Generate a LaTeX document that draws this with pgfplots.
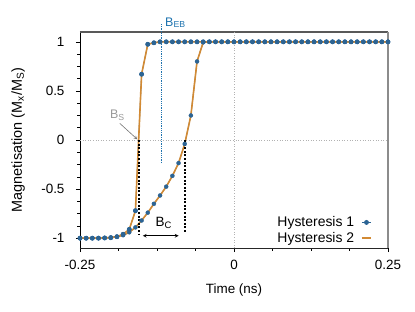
\documentclass[border=0pt]{standalone}
\usepackage{pgfplots}
\pgfplotsset{compat=1.18}
\usepackage{pgfplotstable}
\usepackage{fontspec}
\setmainfont{Liberation Sans}
\definecolor{hblue}{RGB}{44,100,148}
\definecolor{horange}{RGB}{210,138,52}
\definecolor{ebblue}{RGB}{30,115,175}

\pgfplotstableread{
x y
-0.25 -1
-0.24 -1
-0.23 -1
-0.22 -1
-0.21 -0.998
-0.20 -0.995
-0.19 -0.985
-0.18 -0.96
-0.17 -0.91
-0.16 -0.72
-0.15 0.67
-0.14 0.975
-0.13 0.99
-0.12 1
-0.11 1
-0.10 1
-0.09 1
-0.08 1
-0.07 1
-0.06 1
-0.05 1
-0.04 1
-0.03 1
-0.02 1
-0.01 1
0.00 1
0.01 1
0.02 1
0.03 1
0.04 1
0.05 1
0.06 1
0.07 1
0.08 1
0.09 1
0.10 1
0.11 1
0.12 1
0.13 1
0.14 1
0.15 1
0.16 1
0.17 1
0.18 1
0.19 1
0.20 1
0.21 1
0.22 1
0.23 1
0.24 1
0.25 1
}\steep

\pgfplotstableread{
x y
-0.25 -1
-0.24 -1
-0.23 -1
-0.22 -0.998
-0.21 -0.996
-0.20 -0.993
-0.19 -0.985
-0.18 -0.97
-0.17 -0.94
-0.16 -0.89
-0.15 -0.82
-0.14 -0.74
-0.13 -0.65
-0.12 -0.565
-0.11 -0.475
-0.10 -0.365
-0.09 -0.235
-0.08 -0.04
-0.07 0.25
-0.06 0.80
-0.05 0.995
-0.04 1
-0.03 1
-0.02 1
-0.01 1
0.00 1
0.01 1
0.02 1
0.03 1
0.04 1
0.05 1
0.06 1
0.07 1
0.08 1
0.09 1
0.10 1
0.11 1
0.12 1
0.13 1
0.14 1
0.15 1
0.16 1
0.17 1
0.18 1
0.19 1
0.20 1
0.21 1
0.22 1
0.23 1
0.24 1
0.25 1
}\slow

\begin{document}
\begin{tikzpicture}
\path[use as bounding box] (-80bp,-64bp) rectangle (335bp,248bp);
\begin{axis}[
  at={(0,0)}, anchor=south west,
  scale only axis, width=308bp, height=216bp,
  xmin=-0.25, xmax=0.25, ymin=-1.1, ymax=1.1,
  xtick={-0.25,0,0.25}, xticklabels={-0.25,0,0.25},
  ytick={-1,-0.5,0,0.5,1}, yticklabels={-1,-0.5,0,0.5,1},
  minor x tick num=3, minor y tick num=3,
  xtick pos=bottom, ytick pos=left,
  tick align=outside,
  major tick length=4bp, minor tick length=2.5bp,
  tick style={black, line width=0.5bp},
  axis line style={draw=none},
  font=\fontsize{13.5}{15}\selectfont,
  ticklabel style={font=\fontsize{13.5}{15}\selectfont},
  yticklabel style={xshift=-8bp},
  xticklabel style={yshift=-5bp},
  xlabel={Time (ns)},
  ylabel={Magnetisation (M\textsubscript{x}/M\textsubscript{S})},
  xlabel style={at={(axis description cs:0.5,-0.194)}, anchor=center},
  ylabel style={at={(axis description cs:-0.201,0.5)}, anchor=center, font=\fontsize{14.5}{16}\selectfont},
  clip=false,
  legend entries={Hysteresis 1, Hysteresis 2},
  legend plot pos=right,
  legend cell align=right,
  legend image code/.code={\draw[mark repeat=2,mark phase=2,#1] plot coordinates {(0bp,0bp) (4.5bp,0bp) (9bp,0bp)};},
  legend style={draw=none, fill=none, at={(axis description cs:1,0)}, anchor=south east,
    xshift=-16bp, yshift=2bp, inner sep=0pt, row sep=0pt,
    /tikz/every odd column/.style={column sep=5bp},
    font=\fontsize{14}{15}\selectfont},
]
% frame
\draw[black, line width=0.9bp] (axis description cs:0,0) -- (axis description cs:0,1);
\draw[black!85, line width=0.7bp] (axis description cs:0,0) -- (axis description cs:1,0);
\draw[black!65, line width=1.6bp] (axis description cs:0,1) -- (axis description cs:1,1);
\draw[black!45, line width=2bp] (axis description cs:1,0) -- (axis description cs:1,1);
% zero lines
\draw[gray!60, dotted, line width=0.6bp] (axis cs:0,-1.1) -- (axis cs:0,1.1);
\draw[gray!60, dotted, line width=0.6bp] (axis cs:-0.25,0) -- (axis cs:0.25,0);

\addplot[hblue, line width=0.8bp, mark=*, mark size=2bp, mark options={fill=hblue, draw=hblue}] table {\steep};
\addplot[forget plot, hblue, line width=0.8bp, no marks] table {\slow};
\addplot[horange, line width=1.6bp, no marks] table {\steep};
\addplot[forget plot, horange, line width=1.6bp, no marks] table {\slow};
\addplot[forget plot, only marks, mark=*, mark size=2bp, mark options={fill=hblue, draw=hblue}] table {\steep};
\addplot[forget plot, only marks, mark=*, mark size=2bp, mark options={fill=hblue, draw=hblue}] table {\slow};

% annotations
\draw[ebblue, densely dotted, line width=0.8bp] (axis cs:-0.118,-0.235) -- (axis cs:-0.118,1.18);
\node[ebblue, anchor=base west, inner sep=0pt, font=\fontsize{12.5}{14}\selectfont] at (axis cs:-0.112,1.161) {B\textsubscript{EB}};
\node[gray!80, anchor=base west, inner sep=0pt, font=\fontsize{12.5}{14}\selectfont] at (axis cs:-0.2016,0.214) {B\textsubscript{S}};
\draw[gray!90!black, line width=0.6bp, -stealth] (axis cs:-0.1855,0.17) -- (axis cs:-0.157,0.007);
\draw[black, line width=1.1bp, dash pattern=on 2bp off 1.6bp] (axis cs:-0.1543,0) -- (axis cs:-0.1543,-0.97);
\draw[black, line width=1.1bp, dash pattern=on 2bp off 1.6bp] (axis cs:-0.0796,0) -- (axis cs:-0.0796,-0.95);
\draw[black, line width=0.7bp, stealth-stealth] (axis cs:-0.148,-0.975) -- (axis cs:-0.090,-0.975);
\node[black, anchor=base west, inner sep=0pt, font=\fontsize{13.5}{15}\selectfont] at (axis cs:-0.1275,-0.876) {B\textsubscript{C}};
\end{axis}
\end{tikzpicture}
\end{document}
